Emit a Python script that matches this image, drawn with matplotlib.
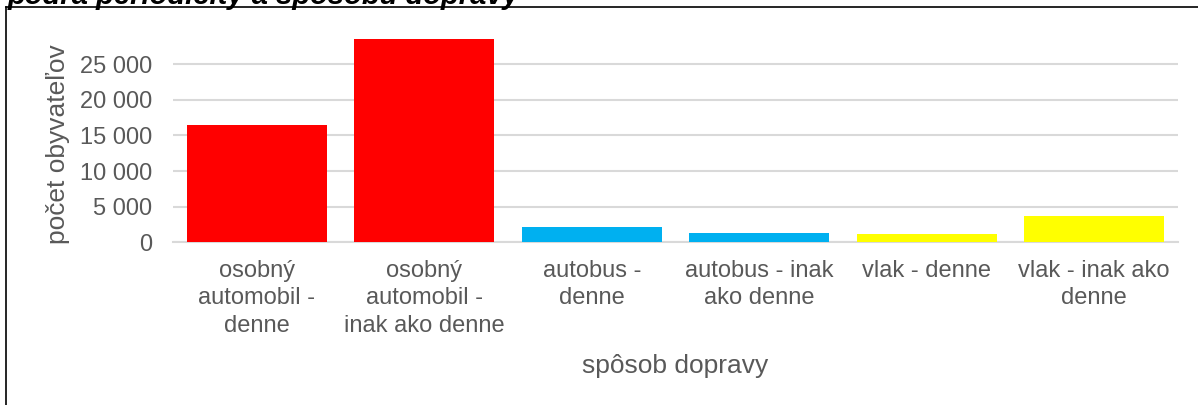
import matplotlib
matplotlib.use("Agg")
import matplotlib.pyplot as plt
from matplotlib.lines import Line2D
from matplotlib.ticker import FuncFormatter

# data
categories = ["osobný\nautomobil -\ndenne",
              "osobný\nautomobil -\ninak ako denne",
              "autobus -\ndenne",
              "autobus - inak\nako denne",
              "vlak - denne",
              "vlak - inak ako\ndenne"]
values = [16500, 28550, 2150, 1300, 1200, 3700]
bar_colors = ["#FF0000", "#FF0000", "#00B0F0", "#00B0F0", "#FFFF00", "#FFFF00"]
yticks = [0, 5000, 10000, 15000, 20000, 25000]

title_str = "podľa periodicity a spôsobu dopravy"
xlabel_str = "spôsob dopravy"
ylabel_str = "počet obyvateľov"

plt.rcParams['font.family'] = ['Liberation Sans', 'DejaVu Sans']
txt_col = "#595959"
grid_col = "#D9D9D9"

W, H = 1198, 405
fig = plt.figure(figsize=(W / 100, H / 100), dpi=100)

# axes placement in pixels: x 173..1178, y 36..242
ax = fig.add_axes([173 / W, 1 - 242.3 / H, (1178 - 173) / W, (242.3 - 35.8) / H])

x = list(range(len(categories)))
ax.bar(x, values, width=0.835, color=bar_colors, zorder=3)

ax.set_xlim(-0.5, len(categories) - 0.5)
ax.set_ylim(0, 29000)
ax.set_yticks(yticks)
ax.yaxis.set_major_formatter(FuncFormatter(lambda v, p: f"{int(v):,}".replace(",", " ")))
ax.set_xticks(x)
ax.set_xticklabels(categories, linespacing=1.3)

ax.tick_params(axis="y", length=0, pad=15, labelsize=17, labelcolor=txt_col)
ax.tick_params(axis="x", length=0, pad=13, labelsize=17, labelcolor=txt_col)

ax.yaxis.grid(True, color=grid_col, linewidth=1.5, zorder=0)
ax.xaxis.grid(False)
for s in ["top", "right", "left"]:
    ax.spines[s].set_visible(False)
ax.spines["bottom"].set_color(grid_col)
ax.spines["bottom"].set_linewidth(1.5)

ax.set_ylabel(ylabel_str, fontsize=19, color=txt_col)
ax.yaxis.set_label_coords(-(173 - 58) / (1178 - 173), 0.5 - (144 - 139) / (242.3 - 35.8))
ax.yaxis.label.set_va("center")
ax.set_xlabel(xlabel_str, fontsize=19, color=txt_col)
ax.xaxis.set_label_coords(0.5, -(366 - 242.3) / (242.3 - 35.8))
ax.xaxis.label.set_va("center")

# chart frame (top and left edges visible)
fig.add_artist(Line2D([6 / W, 1], [1 - 7 / H, 1 - 7 / H], transform=fig.transFigure,
                      color="black", linewidth=1.2))
fig.add_artist(Line2D([6 / W, 6 / W], [0, 1 - 7 / H], transform=fig.transFigure,
                      color="black", linewidth=1.2))

# title, cut off at the top edge
fig.text(8 / W, 1 - 4 / H, title_str, fontsize=21, fontweight="bold", fontstyle="italic",
         color="black", va="baseline", ha="left")

fig.savefig("out.png", dpi=100)
